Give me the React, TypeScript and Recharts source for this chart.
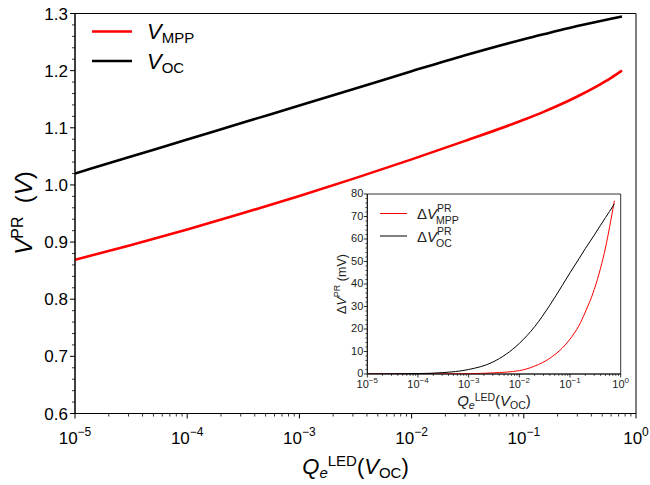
import React from 'react';
import { LineChart, Line, XAxis, YAxis, ReferenceArea } from 'recharts';

// ---------- data ----------
const qeMain = [1e-5, 3e-5, 1e-4, 3e-4, 1e-3, 3e-3, 1e-2, 3e-2, 0.1, 0.15, 0.2, 0.3, 0.45, 0.6, 0.75];
const vocMain = [1.02, 1.0484, 1.0795, 1.1079, 1.139, 1.1674, 1.199, 1.227, 1.255, 1.2635, 1.27, 1.278, 1.2855, 1.2907, 1.2946];
const vmppMain = [0.869, 0.8937, 0.9222, 0.9494, 0.9808, 1.0106, 1.0447, 1.0771, 1.114, 1.1279, 1.1385, 1.1548, 1.1731, 1.1875, 1.2002];

const qeInset = [1e-5, 1e-4, 3e-4, 1e-3, 3e-3, 1e-2, 2e-2, 4e-2, 0.07, 0.1, 0.15, 0.2, 0.3, 0.4, 0.5, 0.6, 0.75];
const dVocInset = [0, 0.2, 0.6, 2.0, 5.3, 13.6, 21, 30.6, 39.3, 45, 51.2, 55.7, 61.7, 66.1, 69.5, 72.2, 75.6];
const dVmppInset = [0, 0, 0.05, 0.15, 0.5, 1.5, 3.5, 7, 11.5, 15.5, 21.5, 27.5, 37.5, 47, 56, 65, 77];

const decadeTicks = [1e-5, 1e-4, 1e-3, 1e-2, 1e-1, 1];
const mainYLabels = [0.6, 0.7, 0.8, 0.9, 1.0, 1.1, 1.2, 1.3];
const insetYLabels = [0, 10, 20, 30, 40, 50, 60, 70, 80];

// ---------- tables ----------
const mainData = qeMain.map((q, i) => ({ q, voc: vocMain[i], vmpp: vmppMain[i] }));
const insetData = qeInset.map((q, i) => ({ q, dvoc: dVocInset[i], dvmpp: dVmppInset[i] }));

const logTicks: number[] = [];
decadeTicks.forEach((d) => {
  logTicks.push(d);
  if (d < 1) for (let m = 2; m <= 9; m++) logTicks.push(m * d);
});
const mainYTicks: number[] = [];
for (let i = 0; i <= 35; i++) mainYTicks.push(Math.round((0.6 + i * 0.02) * 1000) / 1000);
const insetYTicks: number[] = [];
for (let i = 0; i <= 40; i++) insetYTicks.push(i * 2);

const FONT = "'Liberation Sans', Arial, Helvetica, sans-serif";

const isDecade = (v: number) => decadeTicks.some((d) => Math.abs(d - v) / d < 1e-6);
const expLabel = (v: number) => {
  const e = Math.round(Math.log10(v));
  return e < 0 ? '\u2212' + Math.abs(e) : String(e);
};

const MainXTick = (p: any) => {
  const { x, y, payload } = p;
  const major = isDecade(payload.value);
  return (
    <g>
      <line x1={x} x2={x} y1={y} y2={y + (major ? 5 : 3)} stroke="#000" strokeWidth={major ? 1 : 0.8} />
      {major && (
        <text x={x} y={y + 30} textAnchor="middle" fontSize={17} fontFamily={FONT} fill="#000">
          10<tspan dy={-8} fontSize={12}>{expLabel(payload.value)}</tspan>
        </text>
      )}
    </g>
  );
};

const MainYTick = (p: any) => {
  const { x, y, payload } = p;
  const v = payload.value;
  const major = mainYLabels.some((m) => Math.abs(m - v) < 1e-6);
  return (
    <g>
      <line x1={x} x2={x - (major ? 5 : 3)} y1={y} y2={y} stroke="#000" strokeWidth={major ? 1 : 0.8} />
      {major && (
        <text x={x - 7} y={y + 6} textAnchor="end" fontSize={17} fontFamily={FONT} fill="#000">
          {v.toFixed(1)}
        </text>
      )}
    </g>
  );
};

const InsetXTick = (p: any) => {
  const { x, y, payload } = p;
  const major = isDecade(payload.value);
  return (
    <g>
      <line x1={x} x2={x} y1={y} y2={y + (major ? 3.5 : 2)} stroke="#000" strokeWidth={major ? 0.8 : 0.6} />
      {major && (
        <text x={x} y={y + 13.5} textAnchor="middle" fontSize={11} fontFamily={FONT} fill="#222">
          10<tspan dy={-5} fontSize={8}>{expLabel(payload.value)}</tspan>
        </text>
      )}
    </g>
  );
};

const InsetYTick = (p: any) => {
  const { x, y, payload } = p;
  const v = payload.value;
  const major = insetYLabels.includes(v);
  return (
    <g>
      <line x1={x} x2={x - (major ? 3.5 : 2)} y1={y} y2={y} stroke="#000" strokeWidth={major ? 0.8 : 0.6} />
      {major && (
        <text x={x - 4} y={y + 3} textAnchor="end" fontSize={11} fontFamily={FONT} fill="#222">
          {v}
        </text>
      )}
    </g>
  );
};

export default function App() {
  return (
    <div style={{ position: 'absolute', left: 0, top: 0, width: 650, height: 485, background: '#fff' }}>
      <div style={{ position: 'absolute', left: 0, top: 0 }}>
        <LineChart width={650} height={485} data={mainData} margin={{ top: 13.5, right: 14, bottom: 11.5, left: 15 }}>
          <XAxis
            dataKey="q"
            type="number"
            scale="log"
            domain={[1e-5, 1]}
            allowDataOverflow
            ticks={logTicks}
            interval={0}
            height={60}
            tickSize={0}
            tickMargin={0}
            tickLine={false}
            axisLine={{ stroke: '#000', strokeWidth: 1 }}
            tick={(p: any) => <MainXTick {...p} />}
          />
          <YAxis
            type="number"
            domain={[0.6, 1.3]}
            allowDataOverflow
            ticks={mainYTicks}
            interval={0}
            width={60}
            tickSize={0}
            tickMargin={0}
            tickLine={false}
            axisLine={{ stroke: '#000', strokeWidth: 1 }}
            tick={(p: any) => <MainYTick {...p} />}
          />
          <ReferenceArea x1={1e-5} x2={1} y1={0.6} y2={1.3} fill="none" stroke="#000" strokeWidth={1} />
          <Line dataKey="voc" stroke="#000" strokeWidth={2.6} dot={false} type="monotone" isAnimationActive={false} />
          <Line dataKey="vmpp" stroke="#ff0000" strokeWidth={2.6} dot={false} type="monotone" isAnimationActive={false} />
        </LineChart>
      </div>

      <div style={{ position: 'absolute', left: 367, top: 194, width: 254, height: 180, background: '#fff' }} />
      <div style={{ position: 'absolute', left: 307, top: 185, width: 323, height: 225 }}>
        <LineChart width={323} height={225} data={insetData} margin={{ top: 9, right: 9.3, bottom: 6, left: 10.3 }}>
          <XAxis
            dataKey="q"
            type="number"
            scale="log"
            domain={[1e-5, 1]}
            allowDataOverflow
            ticks={logTicks}
            interval={0}
            height={30}
            tickSize={0}
            tickMargin={0}
            tickLine={false}
            axisLine={{ stroke: '#000', strokeWidth: 0.8 }}
            tick={(p: any) => <InsetXTick {...p} />}
          />
          <YAxis
            type="number"
            domain={[0, 80]}
            allowDataOverflow
            ticks={insetYTicks}
            interval={0}
            width={50}
            tickSize={0}
            tickMargin={0}
            tickLine={false}
            axisLine={{ stroke: '#000', strokeWidth: 0.8 }}
            tick={(p: any) => <InsetYTick {...p} />}
          />
          <ReferenceArea x1={1e-5} x2={1} y1={0} y2={80} fill="none" stroke="#000" strokeWidth={0.8} />
          <Line dataKey="dvmpp" stroke="#ff0000" strokeWidth={1} dot={false} type="monotone" isAnimationActive={false} />
          <Line dataKey="dvoc" stroke="#000" strokeWidth={1} dot={false} type="monotone" isAnimationActive={false} />
        </LineChart>
      </div>

      <svg width={650} height={485} style={{ position: 'absolute', left: 0, top: 0, pointerEvents: 'none' }} fontFamily={FONT}>
        {/* main legend */}
        <line x1={92} x2={132} y1={31.5} y2={31.5} stroke="#ff0000" strokeWidth={2.6} />
        <line x1={92} x2={132} y1={61} y2={61} stroke="#000" strokeWidth={2.6} />
        <text x={147} y={39} fontSize={22} fill="#000">
          <tspan fontStyle="italic">V</tspan>
          <tspan fontSize={15} dy={4}>MPP</tspan>
        </text>
        <text x={147} y={68.5} fontSize={22} fill="#000">
          <tspan fontStyle="italic">V</tspan>
          <tspan fontSize={15} dy={4}>OC</tspan>
        </text>

        {/* main x title */}
        <text x={355.5} y={474} textAnchor="middle" fontSize={22} fill="#000">
          <tspan fontStyle="italic">Q</tspan>
          <tspan fontStyle="italic" fontSize={15} dy={4}>e</tspan>
          <tspan fontSize={15} dy={-12}>LED</tspan>
          <tspan dy={8}>(</tspan>
          <tspan fontStyle="italic">V</tspan>
          <tspan fontSize={15} dy={4}>OC</tspan>
          <tspan dy={-4}>)</tspan>
        </text>

        {/* main y title */}
        <text transform="translate(32,213) rotate(-90)" textAnchor="middle" fontSize={24} fill="#000">
          <tspan fontStyle="italic">V</tspan>
          <tspan fontSize={16} dy={-9}>PR</tspan>
          <tspan dy={9} xmlSpace="preserve">{'  ('}</tspan>
          <tspan fontStyle="italic">V</tspan>
          <tspan>)</tspan>
        </text>

        {/* inset legend */}
        <line x1={380} x2={407} y1={213.5} y2={213.5} stroke="#ff0000" strokeWidth={1} />
        <line x1={380} x2={407} y1={236} y2={236} stroke="#000" strokeWidth={1} />
        <text x={417} y={219} fontSize={15} fill="#222">
          {'\u0394'}<tspan fontStyle="italic">V</tspan>
        </text>
        <text x={437} y={212} fontSize={10.5} fill="#222">PR</text>
        <text x={436} y={223.5} fontSize={10.5} fill="#222">MPP</text>
        <text x={417} y={242} fontSize={15} fill="#222">
          {'\u0394'}<tspan fontStyle="italic">V</tspan>
        </text>
        <text x={437} y={235} fontSize={10.5} fill="#222">PR</text>
        <text x={436} y={246.5} fontSize={10.5} fill="#222">OC</text>

        {/* inset x title */}
        <text x={494} y={406} textAnchor="middle" fontSize={15} fill="#222">
          <tspan fontStyle="italic">Q</tspan>
          <tspan fontStyle="italic" fontSize={10.5} dy={3}>e</tspan>
          <tspan fontSize={10.5} dy={-8}>LED</tspan>
          <tspan dy={5}>(</tspan>
          <tspan fontStyle="italic">V</tspan>
          <tspan fontSize={10.5} dy={3}>OC</tspan>
          <tspan dy={-3}>)</tspan>
        </text>

        {/* inset y title */}
        <text transform="translate(346,284) rotate(-90)" textAnchor="middle" fontSize={12.5} fill="#222">
          {'\u0394'}<tspan fontStyle="italic">V</tspan>
          <tspan fontSize={9} dy={-6}>PR</tspan>
          <tspan dy={6}>{' (mV)'}</tspan>
        </text>
      </svg>
    </div>
  );
}
